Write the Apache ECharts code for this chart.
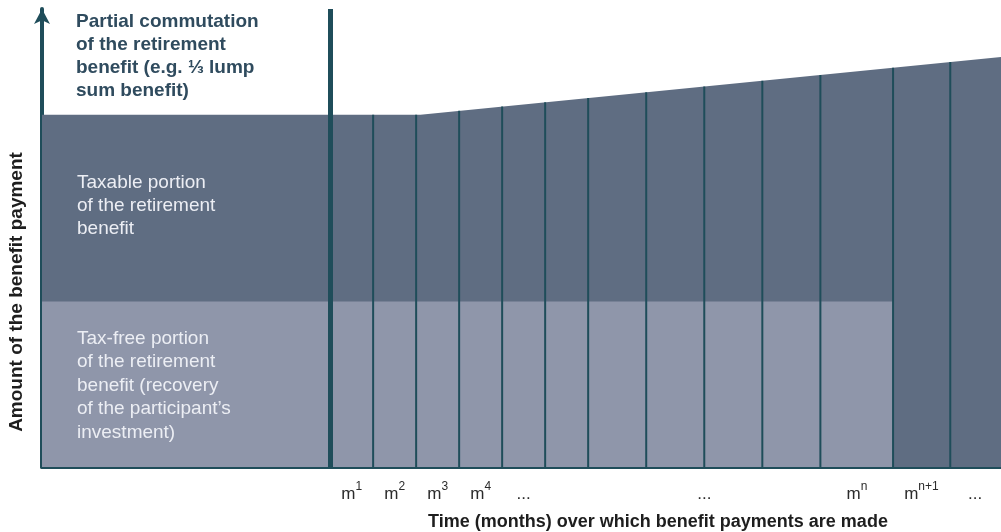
<!DOCTYPE html>
<html>
<head>
<meta charset="utf-8">
<style>
  html, body { margin: 0; padding: 0; background: #fff; }
  #main { width: 1001px; height: 532px; }
</style>
<script src="https://cdn.jsdelivr.net/npm/echarts@6/dist/echarts.min.js"></script>
</head>
<body>
<div id="main"></div>
<script>
// 时间轴: 0 = 开始领取退休金, 左边是一次性领取部分
var xStart = -6.7;
var xEnd = 15.6;
var yMax = 130;

// 每月付款的分隔线 (月份边界)
var monthEdges = [1, 2, 3, 4, 5, 6, 7.35, 8.7, 10.05, 11.4, 13.09, 14.42];

// 付款总额的上边界
var topOutline = [[xStart, 100], [2.1, 100], [xEnd, 116.4]];

// 免税部分 (收回投资), 到 m^n 结束
var taxFreeLevel = 47;
var taxFreeEnd = 13.09;

// 刻度标签
var tickPos = [0.5, 1.5, 2.5, 3.5, 4.5, 8.7, 12.25, 13.75, 15.0];
var tickBase = ['m', 'm', 'm', 'm', '...', '...', 'm', 'm', '...'];
var tickSup = ['1', '2', '3', '4', '', '', 'n', 'n+1', ''];

var lineColor = '#1f4d5a';
var darkFill = '#5f6d82';
var lightFill = '#8f96aa';

function topAt(x) {
	for (var i = 0; i < topOutline.length - 1; i++) {
		var a = topOutline[i], b = topOutline[i + 1];
		if (x >= a[0] && x <= b[0]) {
			return a[1] + (b[1] - a[1]) * (x - a[0]) / (b[0] - a[0]);
		}
	}
	return topOutline[topOutline.length - 1][1];
}

var chart = echarts.init(document.getElementById('main'));

var option = {
	animation: false,
	grid: { left: 42, right: 0, top: 9, bottom: 65 },
	xAxis: {
		type: 'value',
		min: xStart,
		max: xEnd,
		axisLine: { show: true, onZero: false, lineStyle: { color: lineColor, width: 4 } },
		axisTick: { show: false },
		splitLine: { show: false },
		axisLabel: {
			customValues: tickPos,
			margin: 14,
			formatter: function (v) {
				var idx = 0, best = 1e9;
				for (var i = 0; i < tickPos.length; i++) {
					if (Math.abs(tickPos[i] - v) < best) { best = Math.abs(tickPos[i] - v); idx = i; }
				}
				if (tickSup[idx]) {
					return '{m|' + tickBase[idx] + '}{s|' + tickSup[idx] + '}';
				}
				return '{m|' + tickBase[idx] + '}';
			},
			rich: {
				m: { fontSize: 17, color: '#2b2b2b', fontFamily: 'Liberation Sans', lineHeight: 22, verticalAlign: 'bottom' },
				s: { fontSize: 12, color: '#2b2b2b', fontFamily: 'Liberation Sans', lineHeight: 13, verticalAlign: 'top' }
			}
		}
	},
	yAxis: {
		type: 'value',
		min: 0,
		max: yMax,
		axisLine: {
			show: true,
			onZero: false,
			symbol: ['none', 'arrow'],
			symbolSize: [12, 15],
			lineStyle: { color: lineColor, width: 4 }
		},
		axisTick: { show: false },
		axisLabel: { show: false },
		splitLine: { show: false }
	},
	series: [
		{
			// 付款总额 (应税部分)
			type: 'line',
			data: topOutline,
			symbol: 'none',
			lineStyle: { width: 0 },
			areaStyle: { color: darkFill, opacity: 1 },
			z: 1,
			markLine: {
				silent: true,
				symbol: 'none',
				label: { show: false },
				lineStyle: { color: lineColor, width: 5, type: 'solid' },
				data: [{ xAxis: 0 }]
			}
		},
		{
			// 免税部分
			type: 'line',
			data: [[xStart, taxFreeLevel], [taxFreeEnd, taxFreeLevel]],
			symbol: 'none',
			lineStyle: { width: 0 },
			areaStyle: { color: lightFill, opacity: 1 },
			z: 2
		},
		{
			// 月份分隔线
			type: 'custom',
			data: monthEdges,
			z: 3,
			renderItem: function (params, api) {
				var x = api.value(0);
				var p0 = api.coord([x, 0]);
				var p1 = api.coord([x, topAt(x)]);
				return {
					type: 'line',
					shape: { x1: p0[0], y1: p0[1], x2: p1[0], y2: p1[1] },
					style: { stroke: lineColor, lineWidth: 2 }
				};
			}
		}
	],
	graphic: [
		{
			type: 'text', left: 76, top: 10, z: 100,
			style: {
				text: 'Partial commutation\nof the retirement\nbenefit (e.g. \u2153 lump\nsum benefit)',
				fill: '#2f4b5e', fontSize: 19, fontWeight: 'bold', fontFamily: 'Liberation Sans', lineHeight: 23
			}
		},
		{
			type: 'text', left: 77, top: 171, z: 100,
			style: {
				text: 'Taxable portion\nof the retirement\nbenefit',
				fill: '#eceef4', fontSize: 19, fontFamily: 'Liberation Sans', lineHeight: 23
			}
		},
		{
			type: 'text', left: 77, top: 327, z: 100,
			style: {
				text: 'Tax-free portion\nof the retirement\nbenefit (recovery\nof the participant\u2019s\ninvestment)',
				fill: '#eceef4', fontSize: 19, fontFamily: 'Liberation Sans', lineHeight: 23.5
			}
		},
		{
			type: 'text', x: 17, y: 292, rotation: Math.PI / 2, z: 100,
			style: {
				text: 'Amount of the benefit payment',
				fill: '#1e1e1e', fontSize: 19, fontWeight: 'bold', fontFamily: 'Liberation Sans',
				align: 'center', verticalAlign: 'middle'
			}
		},
		{
			type: 'text', x: 658, y: 522, z: 100,
			style: {
				text: 'Time (months) over which benefit payments are made',
				fill: '#1e1e1e', fontSize: 18, fontWeight: 'bold', fontFamily: 'Liberation Sans',
				align: 'center', verticalAlign: 'middle'
			}
		}
	]
};

chart.setOption(option);
</script>
</body>
</html>
